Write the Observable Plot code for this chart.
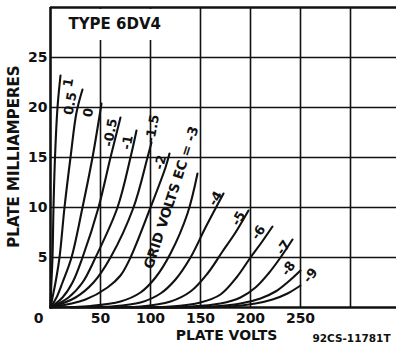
<!DOCTYPE html>
<html><head><meta charset="utf-8">
<script src="https://cdn.jsdelivr.net/npm/d3@7"></script>
<script src="https://cdn.jsdelivr.net/npm/@observablehq/plot@0.6"></script>
<style>body{margin:0;background:#fff}</style>
</head><body><div id="chart"></div>
<script>
// Plate characteristic curves, type 6DV4: [plate volts, plate mA]
const ecP1   = [[0,0],[0.7,2],[2,5],[3,10],[4.5,15],[7,20],[10,23.2]];
const ecP05  = [[0,0],[2,1],[5,2.5],[9,5],[14,10],[20,15],[26,19.5],[32,21.8]];
const ec0    = [[0,0],[6,1],[12,2.5],[21,5],[32,10],[42,15],[51,20.4]];
const ecM05  = [[0,0],[12,1],[22,2.5],[32,5],[48,10],[60,15],[70,19]];
const ecM1   = [[0,0],[18,1],[32,2.5],[45,5],[67,10],[80,15],[86,17.7]];
const ecM15  = [[0,0],[25,1],[43,2.5],[60,5],[83,10],[97,15],[101,16.5]];
const ecM2   = [[0,0],[35,0.8],[57,2],[70,3.2],[80,5],[100,10],[115,14],[119,15.4]];
const ecM3   = [[0,0],[40,0.15],[70,0.6],[90,1.5],[105,3],[120,5.4],[137,9.4],[147,13.4]];
const ecM4   = [[20,0],[60,0.1],[90,0.5],[110,1.4],[125,2.8],[140,5],[155,8],[173,11.4]];
const ecM5   = [[40,0],[90,0.1],[120,0.6],[140,1.6],[157,3.4],[172,5.6],[185,7.5],[198,9.7]];
const ecM6   = [[60,0],[120,0.1],[150,0.5],[170,1.3],[186,3],[200,5],[211,6.5],[222,8.1]];
const ecM7   = [[80,0],[140,0.1],[170,0.4],[190,1],[205,2],[218,3.4],[230,5],[242,6.8]];
const ecM8   = [[100,0],[160,0.1],[190,0.4],[210,0.9],[225,1.6],[238,2.6],[250,3.7]];
const ecM9   = [[120,0],[180,0.1],[205,0.4],[222,0.8],[237,1.4],[250,2.2]];

const gridVolts = ["1","0.5","0","-0.5","-1","-1.5","-2","-3","-4","-5","-6","-7","-8","-9"];
const curveData = [ecP1,ecP05,ec0,ecM05,ecM1,ecM15,ecM2,ecM3,ecM4,ecM5,ecM6,ecM7,ecM8,ecM9];

// curve labels (data coordinates) and rotation
const labelText  = ["1","0.5","0","-0.5","-1","-1.5","-2","-4","-5","-6","-7","-8","-9"];
const labelVolts = [18,20,38,60,77,102,110,165,188,208,233,238,260];
const labelMa    = [22.5,20.4,19.5,17.5,16.5,17.9,14.5,10.9,8.9,7.5,6.0,3.9,3.2];
const labelAngle = [-80,-80,-80,-80,-80,-80,-75,-60,-60,-55,-55,-55,-50];

const xTicks = [50,100,150,200,250];
const yTicks = [5,10,15,20,25];
const xGrid = [50,100,150,200,250,300];

const rows = curveData.flatMap((pts, k) => pts.map(([v, i]) => ({ec: gridVolts[k], v, i})));
const labels = labelText.map((t, k) => ({t, v: labelVolts[k], i: labelMa[k], a: labelAngle[k]}));

const font = "DejaVu Sans";
const ink = "#111";

const chart = Plot.plot({
  width: 396, height: 343,
  marginLeft: 50, marginRight: 0, marginTop: 7, marginBottom: 36,
  x: {domain: [0, 346], axis: null},
  y: {domain: [0, 30], axis: null},
  style: {fontFamily: font, background: "white"},
  marks: [
    Plot.ruleX(xGrid, {y1: 0, y2: 30, stroke: ink, strokeWidth: 1.6}),
    Plot.ruleY(yTicks, {x1: 0, x2: 346, stroke: ink, strokeWidth: 1.6}),
    Plot.rect([0], {x1: 1, x2: 135, y1: 26.7, y2: 29.8, fill: "white"}),
    Plot.ruleX([0], {y1: 0, y2: 30, stroke: ink, strokeWidth: 2.6}),
    Plot.ruleY([0, 30], {x1: 0, x2: 346, stroke: ink, strokeWidth: 2.4}),
    Plot.line(rows, {x: "v", y: "i", z: "ec", curve: "catmull-rom", stroke: ink, strokeWidth: 2.1}),
    Plot.text(labels, {x: "v", y: "i", text: "t", rotate: "a", fontSize: 13, fontWeight: "bold", fill: ink}),
    Plot.text(["GRID VOLTS EC = -3"], {x: 121, y: 11, rotate: -72, fontSize: 13.5, fontWeight: "bold", fill: ink}),
    Plot.text(["TYPE 6DV4"], {x: 18, y: 28.3, textAnchor: "start", fontSize: 15, fontWeight: "bold", fill: ink}),
    Plot.text(yTicks, {x: -3, y: d => d, text: d => String(d), textAnchor: "end", fontSize: 14, fontWeight: "bold", fill: ink}),
    Plot.text(xTicks, {x: d => d, y: -1.1, text: d => String(d), fontSize: 14, fontWeight: "bold", fill: ink}),
    Plot.text(["0"], {x: -12, y: -1.1, fontSize: 14, fontWeight: "bold", fill: ink}),
    Plot.text(["PLATE VOLTS"], {x: 176, y: -2.8, fontSize: 14, fontWeight: "bold", fill: ink}),
    Plot.text(["92CS-11781T"], {x: 301, y: -3.1, fontSize: 10.5, fontWeight: "bold", fill: ink}),
    Plot.text(["PLATE MILLIAMPERES"], {x: -36, y: 15.1, rotate: -90, fontSize: 15, fontWeight: "bold", fill: ink})
  ]
});
document.getElementById("chart").appendChild(chart);
</script>
</body></html>
